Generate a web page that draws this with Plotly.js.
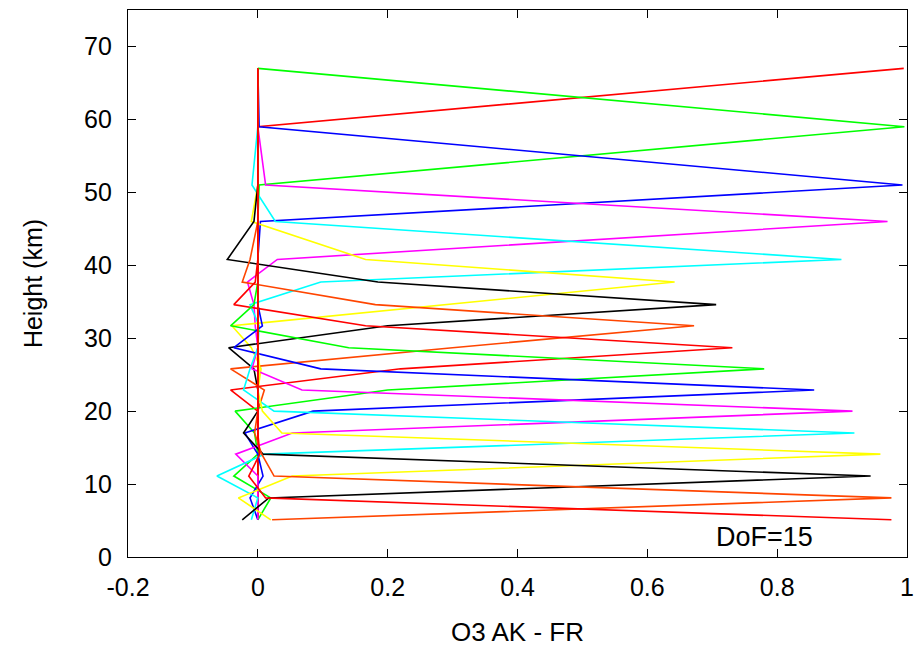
<!DOCTYPE html>
<html>
<head>
<meta charset="utf-8">
<script src="https://cdn.plot.ly/plotly-3.0.1.min.js"></script>
<style>html,body{margin:0;padding:0;background:#fff;}#chart{width:919px;height:647px;}</style>
</head>
<body>
<div id="chart"></div>
<script>
// Retrieval levels (km), top to bottom
const heights = [67, 59, 51, 46, 40.8, 37.7, 34.6, 31.7, 28.7, 25.8, 22.9, 20.0, 17.0, 14.1, 11.1, 8.1, 5.1];

// Averaging kernel rows (one per level), values at each height above
const k1  = [0.995, 0.0, 0.0, 0.0, 0.0, 0.0, 0.0, 0.0, 0.0, 0.0, 0.0, 0.0, 0.0, 0.0, 0.0, 0.0, 0.0];
const k2  = [0.0, 0.996, 0.002, 0.0, 0.0, 0.0, 0.0, 0.0, 0.0, 0.0, 0.0, 0.0, 0.0, 0.0, 0.0, 0.0, 0.0];
const k3  = [0.0, 0.002, 0.993, 0.004, 0.0, 0.0, 0.0, 0.0, 0.0, 0.0, 0.0, 0.0, 0.0, 0.0, 0.0, 0.0, 0.0];
const k4  = [0.0, 0.0, 0.012, 0.97, 0.03, -0.016, -0.006, -0.004, 0.0, 0.0, 0.0, 0.0, 0.0, 0.0, 0.0, 0.0, 0.0];
const k5  = [0.0, 0.0, -0.009, 0.027, 0.899, 0.097, -0.012, 0.002, 0.0, 0.0, 0.0, 0.0, 0.0, 0.0, 0.0, 0.0, 0.0];
const k6  = [0.0, 0.0, 0.0, -0.01, 0.166, 0.642, 0.29, -0.04, -0.01, 0.005, 0.0, 0.0, 0.0, 0.0, 0.0, 0.0, 0.0];
const k7  = [0.0, 0.0, 0.0, -0.006, -0.047, 0.185, 0.706, 0.2, -0.045, -0.006, 0.0, 0.0, 0.0, 0.0, 0.0, 0.0, 0.0];
const k8  = [0.0, 0.0, 0.0, 0.0, -0.012, -0.024, 0.181, 0.672, 0.3, -0.042, 0.01, 0.0, 0.0, 0.0, 0.0, 0.0, 0.0];
const k9  = [0.0, 0.0, 0.0, 0.0, 0.0, -0.004, -0.037, 0.166, 0.731, 0.22, -0.042, 0.0, 0.0, 0.0, 0.0, 0.0, 0.0];
const k10 = [0.0, 0.0, 0.0, 0.0, 0.0, 0.0, -0.006, -0.042, 0.14, 0.78, 0.2, -0.035, -0.005, 0.0, -0.037, 0.02, 0.0];
const k11 = [0.0, 0.0, 0.0, 0.0, 0.0, 0.0, 0.0, 0.007, -0.037, 0.097, 0.857, 0.085, -0.02, 0.0, 0.008, -0.012, 0.0];
const k12 = [0.0, 0.0, 0.0, 0.0, 0.0, 0.0, 0.0, 0.0, 0.0, -0.009, 0.068, 0.916, 0.053, -0.034, 0.0, 0.0, 0.0];
const k13 = [0.0, 0.0, 0.0, 0.0, 0.0, 0.0, 0.0, 0.0, 0.0, -0.012, -0.022, 0.025, 0.919, 0.01, -0.063, 0.0, -0.01];
const k14 = [0.0, 0.0, 0.0, 0.0, 0.0, 0.0, 0.0, 0.0, 0.0, 0.003, 0.0, 0.007, 0.037, 0.959, 0.053, -0.03, 0.02];
const k15 = [0.0, 0.0, 0.0, 0.0, 0.0, 0.0, 0.0, 0.0, 0.0, 0.0, 0.0, 0.0, -0.022, 0.008, 0.944, 0.017, -0.024];
const k16 = [0.0, 0.0, 0.0, 0.0, 0.0, 0.0, 0.0, 0.0, 0.0, 0.0, 0.0, 0.0, -0.005, 0.006, 0.025, 0.976, 0.022];
const k17 = [0.0, 0.0, 0.0, 0.0, 0.0, 0.0, 0.0, 0.0, 0.0, 0.0, 0.0, 0.0, 0.0, 0.003, -0.014, 0.012, 0.976];

const kernels = [k1, k2, k3, k4, k5, k6, k7, k8, k9, k10, k11, k12, k13, k14, k15, k16, k17];
const palette = ['#ff0000', '#00ff00', '#0000ff', '#ff00ff', '#00ffff', '#ffff00', '#000000', '#ff4500'];

const xTickVals = [-0.2, 0, 0.2, 0.4, 0.6, 0.8, 1];
const xTickText = ['-0.2', '0', '0.2', '0.4', '0.6', '0.8', '1'];
const yTickVals = [0, 10, 20, 30, 40, 50, 60, 70];
const annotationText = 'DoF=15';

const traces = kernels.map((k, i) => ({
  type: 'scatter',
  mode: 'lines',
  x: k,
  y: heights,
  line: {color: palette[i % palette.length], width: 1.6},
  showlegend: false,
  hoverinfo: 'skip'
}));

const font = 'Liberation Sans, Arial, sans-serif';
const layout = {
  width: 919, height: 647,
  margin: {l: 128, r: 12, t: 10, b: 90},
  paper_bgcolor: '#fff', plot_bgcolor: '#fff',
  showlegend: false,
  font: {family: font, size: 26, color: '#000'},
  xaxis: {
    range: [-0.2, 1], tickvals: xTickVals, ticktext: xTickText,
    ticks: 'inside', ticklen: 8, tickwidth: 1, tickcolor: '#000',
    showline: true, linecolor: '#000', linewidth: 1.2, mirror: 'ticks',
    showgrid: false, zeroline: false,
    tickfont: {family: font, size: 25}, ticklabelstandoff: 8,
    title: {text: 'O3 AK - FR', font: {family: font, size: 26}, standoff: 22}
  },
  yaxis: {
    range: [0, 75], tickvals: yTickVals,
    ticks: 'inside', ticklen: 8, tickwidth: 1, tickcolor: '#000',
    showline: true, linecolor: '#000', linewidth: 1.2, mirror: 'ticks',
    showgrid: false, zeroline: false,
    tickfont: {family: font, size: 25}, ticklabelstandoff: 10,
    title: {text: 'Height (km)', font: {family: font, size: 25}, standoff: 34}
  },
  annotations: [{
    x: 0.78, y: 2.8, xref: 'x', yref: 'y', text: annotationText, showarrow: false,
    font: {family: font, size: 27, color: '#000'}, xanchor: 'center', yanchor: 'middle'
  }]
};

Plotly.newPlot('chart', traces, layout, {displayModeBar: false, staticPlot: true});
</script>
</body>
</html>
